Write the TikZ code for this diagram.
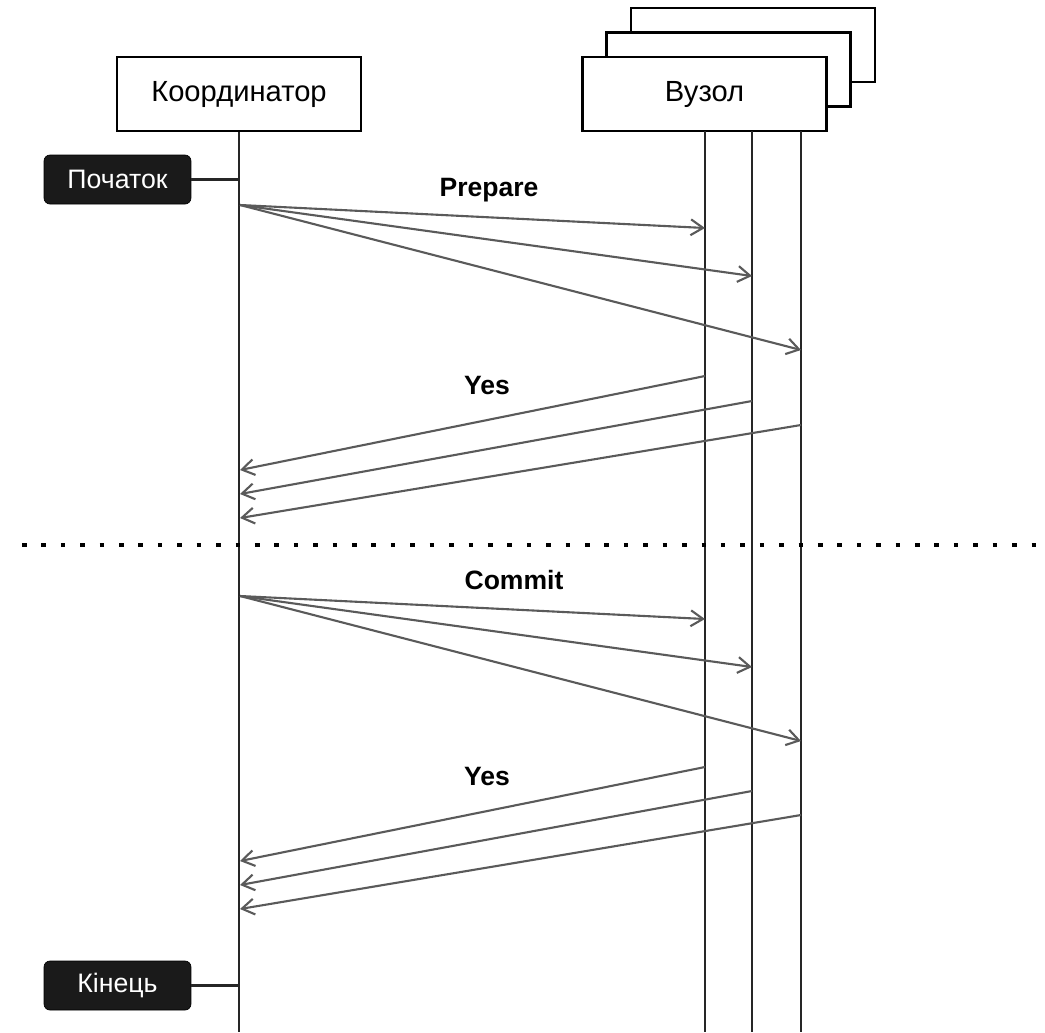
\documentclass[tikz,border=0pt]{standalone}
\usepackage{fontspec}
\setmainfont{Liberation Sans}
\usetikzlibrary{arrows.meta}
\definecolor{msggray}{HTML}{5A5A5A}
\definecolor{tagblack}{HTML}{1A1A1A}
\tikzset{
	actor/.style={draw, line width=1.2pt, fill=white, minimum width=4.88cm, minimum height=1.48cm, inner sep=0pt, font=\fontsize{16.6}{19}\selectfont},
	tag/.style={draw=black, fill=tagblack, rounded corners=0.12cm, minimum width=2.94cm, minimum height=0.98cm, inner sep=0pt, text=white, font=\fontsize{15.2}{17}\selectfont},
	life/.style={line width=1.2pt, draw=black!85},
	msg/.style={-{Straight Barb[length=7pt, width=9pt]}, line width=1.2pt, draw=msggray},
	lbl/.style={font=\bfseries\fontsize{15.1}{17}\selectfont}
}
\begin{document}
\begin{tikzpicture}[x=0.02cm, y=-0.02cm]
			\useasboundingbox (0,0) rectangle (1045,1032);
			\coordinate (bottom) at (0,1032);
			
			% Participants
			\node[actor] (node3) at (753, 45) {};
			\node[actor] (node2) at (728.5, 69.5) {};
			\node[actor] (node1) at (704.5, 94) {Вузол};
			\node[actor] (coord) at (239, 94) {Координатор};
			
			% Lifelines
			\foreach \i/\x in {1/705, 2/752, 3/801} {
				\coordinate (top\i) at (\x, 131);
				\draw[life] (top\i) -- (top\i |- bottom);
			}
			\draw[life] (coord.south) -- (coord.south |- bottom);
			
			% Start and end
			\node[tag] (start) at (117.5, 179.5) {Початок};
			\node[tag] (finish) at (117.5, 985.5) {Кінець};
			\draw[life] (start.east) -- (start.east -| coord.south);
			\draw[life] (finish.east) -- (finish.east -| coord.south);
			
			% Phase 1
			\node[lbl] (prepare) at (489, 190) {Prepare};
			\node[lbl] (yes1) at (487, 385) {Yes};
			\coordinate (prep) at (240, 205);
			\foreach \i/\ya/\yb/\yc in {1/228/376/470, 2/276/401/494, 3/350/425/518} {
				\coordinate (req\i) at (top\i |- 0,\ya);
				\coordinate (ans\i) at (top\i |- 0,\yb);
				\coordinate (back\i) at (240, \yc);
				\draw[msg] (prep) -- (req\i);
				\draw[msg] (ans\i) -- (back\i);
			}
			
			% Separator
			\coordinate (sepL) at (22, 545);
			\coordinate (sepR) at (1045, 545);
			\draw[line width=2.6pt, dash pattern=on 2.6pt off 8.45pt] (sepL) -- (sepR);
			
			% Phase 2
			\node[lbl] (commit) at (514, 580) {Commit};
			\node[lbl] (yes2) at (487, 776) {Yes};
			\coordinate (comm) at (240, 596);
			\foreach \i/\ya/\yb/\yc in {1/619/767/861, 2/667/791/885, 3/741/815/909} {
				\coordinate (creq\i) at (top\i |- 0,\ya);
				\coordinate (cans\i) at (top\i |- 0,\yb);
				\coordinate (cback\i) at (240, \yc);
				\draw[msg] (comm) -- (creq\i);
				\draw[msg] (cans\i) -- (cback\i);
			}
		\end{tikzpicture}
\end{document}
